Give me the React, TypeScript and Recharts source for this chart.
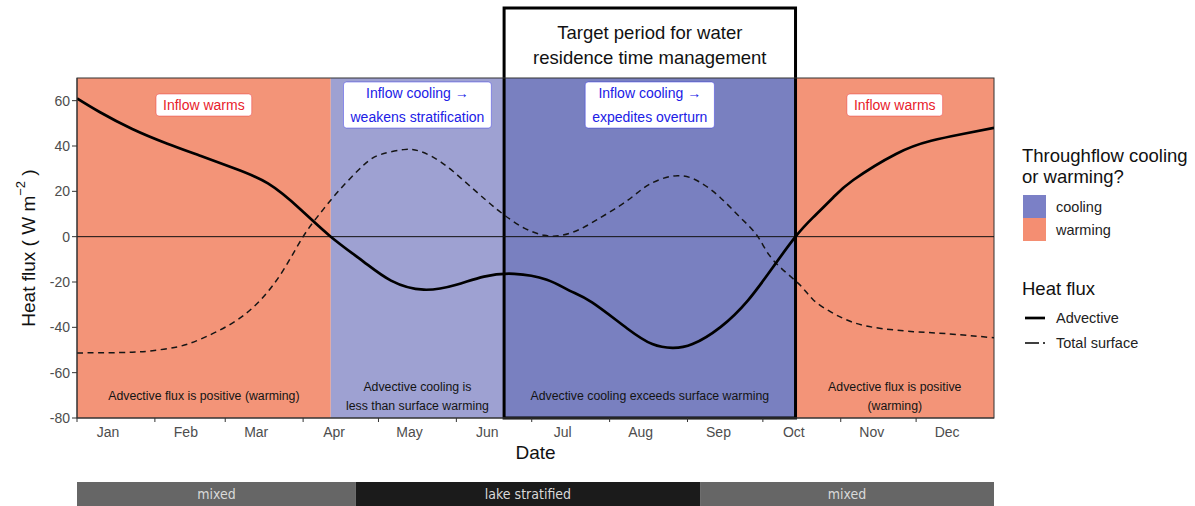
import React from 'react';
import {
  ComposedChart,
  Line,
  XAxis,
  YAxis,
  ReferenceArea,
  ReferenceLine,
  BarChart,
  Bar,
  LabelList,
} from 'recharts';

// ---------- data ----------
const monthLabels = ['Jan', 'Feb', 'Mar', 'Apr', 'May', 'Jun', 'Jul', 'Aug', 'Sep', 'Oct', 'Nov', 'Dec'];
const monthStarts = [0, 31, 59, 90, 120, 151, 181, 212, 243, 273, 304, 334];
const yTicks = [-80, -60, -40, -20, 0, 20, 40, 60];

const advectiveDays = [0, 9, 22, 36, 49, 62, 76, 89, 101, 114, 125, 138, 151, 162, 174, 187, 196, 205, 219, 229, 237, 245, 256, 267, 277, 286, 293, 301, 309, 326, 340, 353, 365];
const advectiveFlux = [61, 55, 47.5, 41, 35.7, 30.4, 23.5, 12, 0, -11, -19.4, -23.4, -21.2, -17.6, -16.4, -19, -23.8, -29, -40.5, -47.4, -49.1, -47.4, -40, -28.2, -13.5, 0, 8.5, 17.3, 25, 36.5, 42.3, 45.4, 48];

const surfaceDays = [0, 12, 22, 30, 40, 49, 62, 73, 82, 90, 97, 104, 114, 121, 130, 137, 145, 154, 163, 170, 178, 186, 193, 200, 207, 219, 228, 239, 248, 256, 264, 271, 277, 287, 293, 300, 307, 317, 333, 346, 365];
const surfaceFlux = [-51.3, -51.2, -51, -50.3, -48.6, -45.3, -38, -28, -15, 0, 10.6, 20, 31.5, 36.3, 38.4, 37.5, 32.8, 24.7, 15.9, 9.6, 3.8, 0.6, 0.6, 3.2, 7.5, 15.9, 23.2, 26.9, 24, 17.3, 8.5, 0, -10.2, -20.5, -27.8, -33.2, -37, -40, -41.9, -42.8, -44.6];

const regionStarts = [0, 101, 170, 286];
const regionEnds = [101, 170, 286, 365];
const regionKinds = ['warming', 'coolingLight', 'cooling', 'warming'];
const regionTopText = [
  ['Inflow warms'],
  ['Inflow cooling \u2192', 'weakens stratification'],
  ['Inflow cooling \u2192', 'expedites overturn'],
  ['Inflow warms'],
];
const regionBottomText = [
  ['Advective flux is positive (warming)'],
  ['Advective cooling is', 'less than surface warming'],
  ['Advective cooling exceeds surface warming'],
  ['Advective flux is positive', '(warming)'],
];

const targetStart = 170;
const targetEnd = 286;
const titleLines = ['Target period for water', 'residence time management'];

const phaseLabels = ['mixed', 'lake stratified', 'mixed'];
const phaseLengths = [111, 137, 117];

const fillLegendLabels = ['cooling', 'warming'];
const lineLegendLabels = ['Advective', 'Total surface'];

// ---------- styles ----------
const FONT = '"Liberation Sans", Arial, Helvetica, sans-serif';
const NARROW = '"Liberation Sans Narrow", "DejaVu Sans Condensed", "Liberation Sans", sans-serif';
const regionFill: Record<string, string> = {
  warming: '#F39478',
  coolingLight: '#9EA1D2',
  cooling: '#7980C0',
};
const legendFill = ['#7B80C6', '#F48E72'];
const phaseFill = ['#666666', '#1b1b1b', '#666666'];
const warmText = '#E8212B';
const coolText = '#2020E6';

function textWidth(s: string, font: string): number {
  try {
    const ctx = document.createElement('canvas').getContext('2d');
    if (!ctx) return s.length * 7;
    ctx.font = font;
    return ctx.measureText(s).width;
  } catch (e) {
    return s.length * 7;
  }
}

function makeRegionShape(i: number) {
  return (p: any) => {
    const { x, y, width, height } = p;
    const cx = x + width / 2;
    const top = regionTopText[i];
    const bottom = regionBottomText[i];
    const color = regionKinds[i] === 'warming' ? warmText : coolText;
    const lineH = 24;
    const topFont = `14px ${FONT}`;
    const boxW = Math.max(...top.map((t) => textWidth(t, topFont))) + 14;
    const boxH = 20 + (top.length - 1) * lineH + 2;
    const boxCy = y + 27;
    const botCy = y + height - 22;
    const botH = 19;
    return (
      <g>
        <rect x={x} y={y} width={width} height={height} fill={regionFill[regionKinds[i]]} />
        <rect
          x={cx - boxW / 2}
          y={boxCy - boxH / 2}
          width={boxW}
          height={boxH}
          rx={3}
          fill="#ffffff"
          stroke={color}
          strokeOpacity={0.5}
          strokeWidth={0.8}
        />
        {top.map((t, k) => (
          <text
            key={'t' + k}
            x={cx}
            y={boxCy + (k - (top.length - 1) / 2) * lineH}
            textAnchor="middle"
            dominantBaseline="central"
            fontSize={14}
            fill={color}
            fontFamily={FONT}
          >
            {t}
          </text>
        ))}
        {bottom.map((t, k) => (
          <text
            key={'b' + k}
            x={cx}
            y={botCy + (k - (bottom.length - 1) / 2) * botH}
            textAnchor="middle"
            dominantBaseline="central"
            fontSize={12.3}
            fill="#141414"
            fontFamily={FONT}
          >
            {t}
          </text>
        ))}
      </g>
    );
  };
}

const TitleBoxShape = (p: any) => {
  const ext = 70;
  const top = p.y - ext;
  return (
    <g>
      <rect x={p.x} y={top} width={p.width} height={p.height + ext} fill="none" stroke="#000" strokeWidth={3} />
      {titleLines.map((t, k) => (
        <text
          key={k}
          x={p.x + p.width / 2}
          y={top + 24 + k * 25}
          textAnchor="middle"
          dominantBaseline="central"
          fontSize={18.5}
          fill="#111"
          fontFamily={FONT}
        >
          {t}
        </text>
      ))}
    </g>
  );
};

const PanelBorder = (p: any) => (
  <rect x={p.x} y={p.y} width={p.width} height={p.height} fill="none" stroke="#333" strokeWidth={1} />
);

const MonthTick = (p: any) => {
  const idx = monthStarts.indexOf(p.payload.value);
  return (
    <text
      x={p.x + 31}
      y={p.y + 8}
      textAnchor="middle"
      dominantBaseline="central"
      fontSize={14}
      fill="#4d4d4d"
      fontFamily={FONT}
    >
      {monthLabels[idx]}
    </text>
  );
};

const ValueTick = (p: any) => (
  <text x={p.x} y={p.y} textAnchor="end" dominantBaseline="central" fontSize={14} fill="#4d4d4d" fontFamily={FONT}>
    {p.payload.value}
  </text>
);

const DateLabel = (p: any) => {
  const vb = p.viewBox || {};
  return (
    <text
      x={vb.x + vb.width / 2}
      y={vb.y + 34}
      textAnchor="middle"
      dominantBaseline="central"
      fontSize={19}
      fill="#111"
      fontFamily={FONT}
    >
      Date
    </text>
  );
};

const HeatLabel = (p: any) => {
  const vb = p.viewBox || {};
  const cx = 28;
  const cy = vb.y + vb.height / 2;
  return (
    <text
      x={cx}
      y={cy}
      transform={`rotate(-90 ${cx} ${cy})`}
      textAnchor="middle"
      dominantBaseline="central"
      fontSize={19}
      fill="#111"
      fontFamily={FONT}
    >
      Heat flux ( W m
      <tspan dy={-8} fontSize={13}>
        {'\u22122'}
      </tspan>
      <tspan dy={8}> )</tspan>
    </text>
  );
};

const PhaseLabel = (i: number) => (p: any) => {
  const vb = p.viewBox || p;
  return (
    <text
      x={vb.x + vb.width / 2}
      y={vb.y + vb.height / 2}
      textAnchor="middle"
      dominantBaseline="central"
      fontSize={14}
      fill="#d9d9d9"
      fontFamily={NARROW}
    >
      {phaseLabels[i]}
    </text>
  );
};

export default function App() {
  const advData = advectiveDays.map((d, i) => ({ day: d, value: advectiveFlux[i] }));
  const surfData = surfaceDays.map((d, i) => ({ day: d, value: surfaceFlux[i] }));
  const phaseRow: Record<string, any> = { name: 'phase' };
  phaseLengths.forEach((v, i) => {
    phaseRow['p' + i] = v;
  });

  return (
    <div
      style={{
        position: 'absolute',
        left: 0,
        top: 0,
        width: 1195,
        height: 506,
        background: '#ffffff',
        overflow: 'hidden',
        fontFamily: FONT,
      }}
    >
      <ComposedChart width={1195} height={478} margin={{ top: 78, right: 201, bottom: 30, left: 27 }}>
        <XAxis
          type="number"
          dataKey="day"
          domain={[0, 365]}
          ticks={monthStarts}
          interval={0}
          allowDataOverflow
          tick={<MonthTick />}
          tickSize={4}
          tickLine={{ stroke: '#333' }}
          axisLine={{ stroke: '#333' }}
          height={30}
          label={(p: any) => <DateLabel {...p} />}
        />
        <YAxis
          type="number"
          domain={[-80, 70]}
          ticks={yTicks}
          interval={0}
          allowDataOverflow
          width={50}
          tick={<ValueTick />}
          tickSize={5}
          tickLine={{ stroke: '#333' }}
          axisLine={{ stroke: '#333' }}
          label={(p: any) => <HeatLabel {...p} />}
        />
        {regionStarts.map((s, i) => (
          <ReferenceArea
            key={'r' + i}
            x1={s}
            x2={regionEnds[i]}
            y1={-80}
            y2={70}
            shape={makeRegionShape(i)}
          />
        ))}
        <ReferenceLine y={0} stroke="#111" strokeWidth={1} />
        <Line
          data={surfData}
          dataKey="value"
          type="natural"
          stroke="#151515"
          strokeWidth={1.5}
          strokeDasharray="6 4.5"
          dot={false}
          isAnimationActive={false}
        />
        <Line
          data={advData}
          dataKey="value"
          type="natural"
          stroke="#000"
          strokeWidth={2.7}
          dot={false}
          isAnimationActive={false}
        />
        <ReferenceArea x1={targetStart} x2={targetEnd} y1={-80} y2={70} shape={TitleBoxShape} />
        <ReferenceArea x1={0} x2={365} y1={-80} y2={70} shape={PanelBorder} />
      </ComposedChart>

      <div style={{ position: 'absolute', left: 0, top: 482 }}>
        <BarChart
          layout="vertical"
          width={1195}
          height={24}
          data={[phaseRow]}
          margin={{ top: 0, right: 201, bottom: 0, left: 77 }}
          barCategoryGap={0}
        >
          <XAxis type="number" domain={[0, 365]} hide />
          <YAxis type="category" dataKey="name" hide />
          {phaseLengths.map((_, i) => (
            <Bar key={'p' + i} dataKey={'p' + i} stackId="a" fill={phaseFill[i]} isAnimationActive={false}>
              <LabelList content={PhaseLabel(i)} />
            </Bar>
          ))}
        </BarChart>
      </div>

      <div style={{ position: 'absolute', left: 1022, top: 145, color: '#111', whiteSpace: 'nowrap' }}>
        <div style={{ fontSize: 18.5, lineHeight: '21px' }}>
          Throughflow cooling
          <br />
          or warming?
        </div>
        <div style={{ marginTop: 8 }}>
          {fillLegendLabels.map((l, i) => (
            <div key={l} style={{ display: 'flex', alignItems: 'center', height: 23 }}>
              <div style={{ width: 23, height: 23, background: legendFill[i], marginLeft: 1 }} />
              <span style={{ fontSize: 14.5, marginLeft: 10, color: '#222' }}>{l}</span>
            </div>
          ))}
        </div>
        <div style={{ fontSize: 18.5, marginTop: 37, lineHeight: '21px' }}>Heat flux</div>
        <div style={{ marginTop: 6 }}>
          {lineLegendLabels.map((l, i) => (
            <div key={l} style={{ display: 'flex', alignItems: 'center', height: 25 }}>
              <svg width={24} height={10} style={{ marginLeft: 1 }}>
                <line
                  x1={2}
                  y1={5}
                  x2={22}
                  y2={5}
                  stroke="#000"
                  strokeWidth={i === 0 ? 2.7 : 1.6}
                  strokeDasharray={i === 0 ? undefined : '14 4'}
                />
              </svg>
              <span style={{ fontSize: 14.5, marginLeft: 9, color: '#222' }}>{l}</span>
            </div>
          ))}
        </div>
      </div>
    </div>
  );
}
